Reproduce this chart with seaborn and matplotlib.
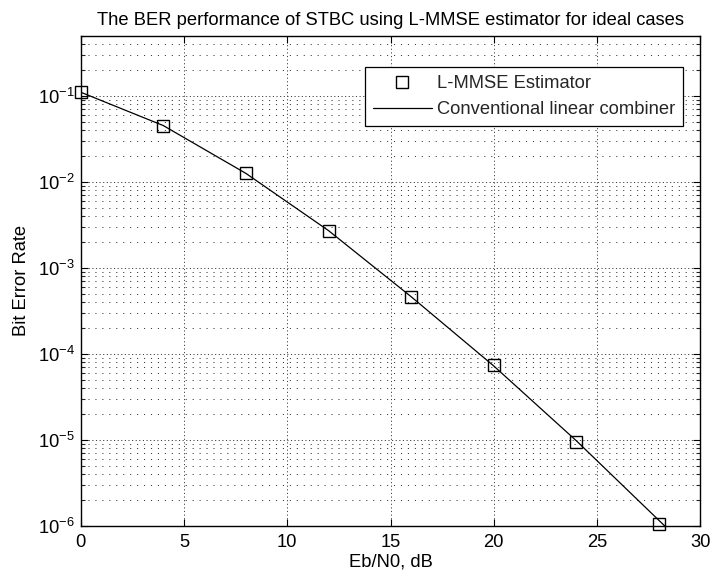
import numpy as np
import pandas as pd
import matplotlib
matplotlib.use("Agg")
import matplotlib.pyplot as plt
import seaborn as sns
from matplotlib.ticker import LogLocator, FixedLocator, NullFormatter

# Simulated BER of the L-MMSE estimator (square markers)
snr_est = [0, 4, 8, 12, 16, 20, 24, 28]
ber_est = [0.112, 0.0445, 0.0126, 0.00266, 4.6e-4, 7.3e-5, 9.5e-6, 1.04e-6]

# BER of the conventional linear combiner (solid line)
snr_conv = [0, 4, 8, 12, 16, 20, 24, 28, 30]
ber_conv = [0.11, 0.045, 0.0125, 0.0027, 4.6e-4, 7.2e-5, 9.7e-6, 1.15e-6, 4.0e-7]

x_ticks = [0, 5, 10, 15, 20, 25, 30]

title = "The BER performance of STBC using L-MMSE estimator for ideal cases"
x_label = "Eb/N0, dB"
y_label = "Bit Error Rate"
label_est = "L-MMSE Estimator"
label_conv = "Conventional linear combiner"

sns.set_style("white")
plt.rcParams["font.family"] = ["Liberation Sans", "DejaVu Sans"]
plt.rcParams["mathtext.fontset"] = "custom"
plt.rcParams["mathtext.rm"] = "Liberation Sans"
plt.rcParams["mathtext.it"] = "Liberation Sans"
plt.rcParams["mathtext.default"] = "regular"
plt.rcParams["lines.scale_dashes"] = False
plt.rcParams["axes.unicode_minus"] = False

FS = 13.2

fig = plt.figure(figsize=(7.10, 5.81), dpi=100)
ax = fig.add_axes([0.1137, 0.0952, 0.8727, 0.8434])

df_est = pd.DataFrame({"snr": snr_est, "ber": ber_est})
df_conv = pd.DataFrame({"snr": snr_conv, "ber": ber_conv})

sns.lineplot(data=df_est, x="snr", y="ber", ax=ax, color="k", marker="s",
             linestyle="none", markersize=8, markerfacecolor="none",
             markeredgecolor="k", markeredgewidth=1.0, label=label_est,
             clip_on=False, zorder=4)
sns.lineplot(data=df_conv, x="snr", y="ber", ax=ax, color="k", linewidth=0.9,
             label=label_conv, zorder=3)

ax.set_yscale("log")
ax.set_xlim(0, 30)
ax.set_ylim(1e-6, 0.5)

ax.xaxis.set_major_locator(FixedLocator(x_ticks))
ax.set_xticklabels([str(t) for t in x_ticks])
ax.yaxis.set_major_locator(LogLocator(base=10, numticks=12))
ax.yaxis.set_minor_locator(LogLocator(base=10, subs=np.arange(2, 10), numticks=12))
ax.yaxis.set_minor_formatter(NullFormatter())

# dotted grid: major lines for both axes, minor lines for the log axis
grid_col = "#3a3a3a"
ax.grid(True, which="major", axis="both", color=grid_col, linewidth=0.7,
        linestyle=(0, (0.8, 1.8)))
ax.grid(True, which="minor", axis="y", color=grid_col, linewidth=0.7,
        linestyle=(0, (0.8, 4.2)))
ax.set_axisbelow(True)

for side in ["left", "right", "top", "bottom"]:
    ax.spines[side].set_visible(True)
    ax.spines[side].set_color("k")
    ax.spines[side].set_linewidth(1.0)

ax.tick_params(which="major", direction="in", length=5, width=0.8,
               top=True, right=True, bottom=True, left=True,
               labelsize=FS, colors="k", pad=6)
ax.tick_params(which="minor", direction="in", length=3, width=0.8,
               left=True, right=True)
ax.tick_params(axis="y", which="major", pad=4)
ax.tick_params(axis="x", which="minor", bottom=False, top=False)

ax.set_title(title, fontsize=FS, pad=8, color="k")
ax.set_xlabel(x_label, fontsize=FS, labelpad=2, color="k")
ax.set_ylabel(y_label, fontsize=FS, labelpad=6, color="k")

leg = ax.legend(loc="upper right", bbox_to_anchor=(0.9726, 0.9367),
                borderaxespad=0, fontsize=FS, frameon=True, fancybox=False,
                framealpha=1, edgecolor="k", handlelength=3.2,
                handletextpad=0.28, borderpad=0.45, labelspacing=0.5)
leg.get_frame().set_linewidth(0.9)

fig.savefig("out.png", dpi=100)
